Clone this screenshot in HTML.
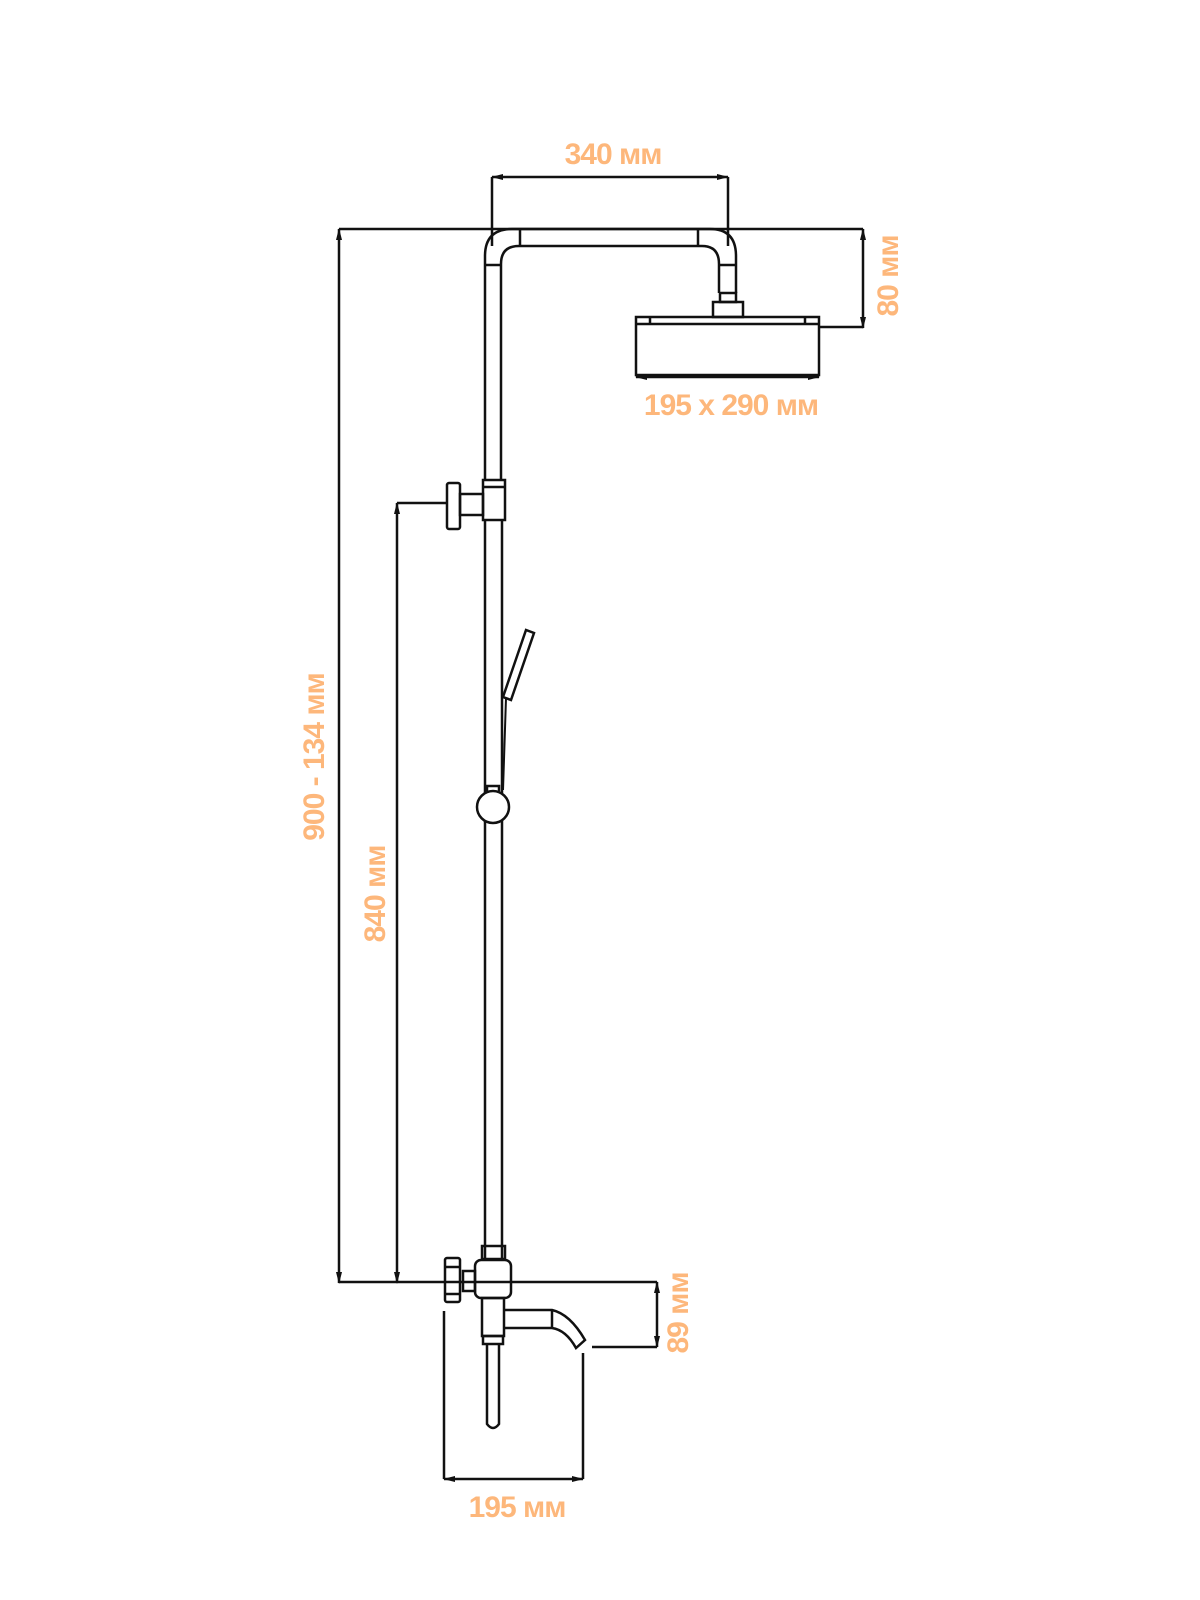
<!DOCTYPE html>
<html><head><meta charset="utf-8"><style>
html,body{margin:0;padding:0;background:#fff;width:1200px;height:1600px;overflow:hidden}
svg{display:block}
text{font-family:"Liberation Sans Narrow","Liberation Sans",sans-serif;font-weight:bold;fill:#fdb77b;letter-spacing:-1px}
</style></head><body>
<svg width="1200" height="1600" viewBox="0 0 1200 1600" xmlns="http://www.w3.org/2000/svg">
<defs>
<marker id="a" viewBox="0 0 12 6" refX="11" refY="3" markerWidth="12" markerHeight="6" orient="auto-start-reverse" markerUnits="userSpaceOnUse"><path d="M0,0 L12,3 L0,6z" fill="#111"/></marker>
</defs>
<g stroke="#111" stroke-width="2.5" fill="none">
<line x1="492" y1="177" x2="728" y2="177" marker-start="url(#a)" marker-end="url(#a)"/>
<line x1="492" y1="177" x2="492" y2="246"/>
<line x1="728" y1="177" x2="728" y2="246"/>
<line x1="339" y1="229" x2="863" y2="229"/>
<line x1="863" y1="229" x2="863" y2="328" marker-start="url(#a)" marker-end="url(#a)"/>
<line x1="820" y1="327" x2="863" y2="327"/>
<path d="M485,480 V256 Q485,229 512,229 H710 Q736,229 736,256 V293"/>
<path d="M501,480 V264 Q501,246 519,246 H702 Q719,246 719,264 V293"/>
<line x1="485" y1="265" x2="501" y2="265"/>
<line x1="520" y1="229" x2="520" y2="246"/>
<line x1="698" y1="229" x2="698" y2="246"/>
<line x1="719" y1="265" x2="736" y2="265"/>
<rect x="720" y="293" width="16" height="9"/>
<rect x="713" y="302" width="30" height="15"/>
<rect x="636" y="317" width="183" height="58"/>
<line x1="636" y1="324" x2="819" y2="324"/>
<line x1="650" y1="317" x2="650" y2="324"/>
<line x1="805" y1="317" x2="805" y2="324"/>
<line x1="636" y1="377" x2="819" y2="377" marker-start="url(#a)" marker-end="url(#a)"/>
<line x1="339" y1="229" x2="339" y2="1283" marker-start="url(#a)" marker-end="url(#a)"/>
<line x1="397" y1="503" x2="397" y2="1283" marker-start="url(#a)" marker-end="url(#a)"/>
<line x1="397" y1="503" x2="447" y2="503"/>
<line x1="339" y1="1282" x2="657" y2="1282"/>
<rect x="483" y="480" width="22" height="40"/>
<line x1="483" y1="487" x2="505" y2="487"/>
<rect x="460" y="494" width="23" height="21"/>
<rect x="447" y="483" width="13" height="46" rx="2"/>
<line x1="485" y1="520" x2="485" y2="1258"/>
<line x1="502" y1="520" x2="502" y2="1258"/>
<circle cx="493" cy="807" r="16" fill="#fff"/>
<path d="M487,791 V786 H499 V791"/>
<path d="M503,697 L526,630 L534,633 L511,700 Z" fill="#fff"/>
<path d="M506,698 C505,730 504,760 503,790" stroke-width="2"/>
<rect x="482" y="1246" width="23" height="13"/>
<rect x="475" y="1260" width="36" height="38" rx="6"/>
<rect x="463" y="1271" width="12" height="20"/>
<rect x="445" y="1258" width="15" height="44" rx="2"/>
<line x1="445" y1="1267" x2="460" y2="1267"/>
<line x1="445" y1="1294" x2="460" y2="1294"/>
<rect x="482" y="1298" width="22" height="38"/>
<path d="M504,1310 H552 Q570,1314 585,1340 L576,1348 Q566,1330 552,1328 H504"/>
<line x1="552" y1="1310" x2="552" y2="1328"/>
<rect x="483" y="1336" width="20" height="8"/>
<path d="M487,1344 V1424 Q493,1432 499,1424 V1344"/>
<line x1="657" y1="1282" x2="657" y2="1347" marker-start="url(#a)" marker-end="url(#a)"/>
<line x1="592" y1="1347" x2="657" y2="1347"/>
<line x1="444" y1="1311" x2="444" y2="1479"/>
<line x1="583" y1="1353" x2="583" y2="1479"/>
<line x1="444" y1="1479" x2="583" y2="1479" marker-start="url(#a)" marker-end="url(#a)"/>
</g>
<text x="613" y="164" font-size="30" text-anchor="middle">340 мм</text>
<text x="731" y="415" font-size="30" text-anchor="middle">195 x 290 мм</text>
<text x="517" y="1517" font-size="30" text-anchor="middle">195 мм</text>
<text transform="translate(898,276) rotate(-90)" font-size="30" text-anchor="middle">80 мм</text>
<text transform="translate(688,1313) rotate(-90)" font-size="30" text-anchor="middle">89 мм</text>
<text transform="translate(324,757) rotate(-90)" font-size="30" text-anchor="middle">900 - 134 мм</text>
<text transform="translate(385,894) rotate(-90)" font-size="30" text-anchor="middle">840 мм</text>
</svg>
</body></html>
